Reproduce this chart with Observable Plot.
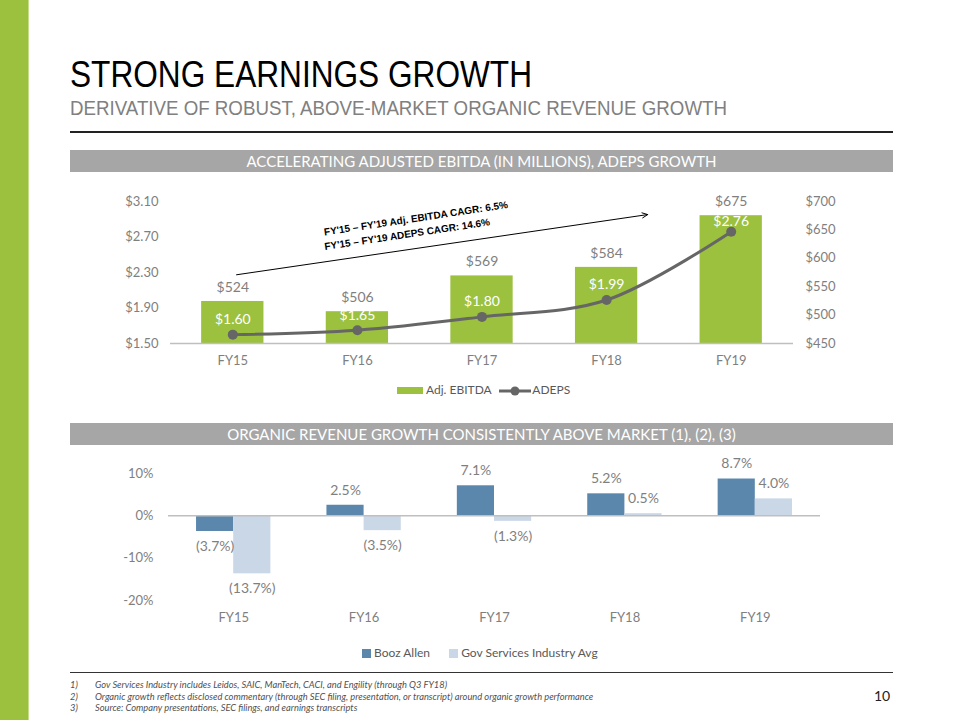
<!DOCTYPE html>
<html>
<head>
<meta charset="utf-8">
<script src="https://cdn.jsdelivr.net/npm/d3@7"></script>
<script src="https://cdn.jsdelivr.net/npm/@observablehq/plot@0.6"></script>
<style>
  html, body { margin: 0; padding: 0; background: #fff; }
  #page { position: relative; width: 960px; height: 720px; overflow: hidden; font-family: Lato, "Open Sans", sans-serif; }
  .abs { position: absolute; }
  #strip { left: 0; top: 0; width: 28px; height: 720px; background: #9bc13f; border-right: 1px solid #c4dc8c; }
  #title { left: 70px; top: 57px; font-family: "Liberation Sans", Arial, sans-serif; font-size: 36px; color: #000; white-space: nowrap; line-height: 1; transform-origin: 0 0; }
  #subtitle { left: 70px; top: 97px; font-family: "Liberation Sans", Arial, sans-serif; font-size: 21px; color: #808080; white-space: nowrap; line-height: 1; transform-origin: 0 0; }
  .rule { left: 70px; width: 823px; background: #222; }
  .band { left: 70px; width: 823px; height: 22px; background: #a6a6a6; color: #fff; font-size: 15px; text-align: center; line-height: 22px; white-space: nowrap; }
  .legend { font-size: 12px; color: #595959; white-space: nowrap; line-height: 14px; }
  .foot { left: 70px; font-size: 9.3px; font-style: italic; color: #505050; white-space: nowrap; }
  .foot span { display: inline-block; width: 25px; }
  #chart1 { left: 0; top: 180px; }
  #chart2 { left: 0; top: 450px; }
</style>
</head>
<body>
<div id="page">
  <div id="strip" class="abs"></div>
  <div id="title" class="abs">STRONG EARNINGS GROWTH</div>
  <div id="subtitle" class="abs">DERIVATIVE OF ROBUST, ABOVE-MARKET ORGANIC REVENUE GROWTH</div>
  <div class="abs rule" style="top:131px;height:2px;"></div>
  <div class="abs band" style="top:150px;">ACCELERATING ADJUSTED EBITDA (IN MILLIONS), ADEPS GROWTH</div>
  <div id="chart1" class="abs"></div>
  <div class="abs legend" style="left:397px;top:383px;">
    <span style="display:inline-block;width:26px;height:7px;background:#9bc13f;vertical-align:middle;margin-right:3px;"></span>Adj. EBITDA
    <svg width="34" height="14" style="vertical-align:middle;margin-left:4px;"><line x1="1" y1="7" x2="33" y2="7" stroke="#666" stroke-width="3"/><circle cx="17" cy="7" r="4.5" fill="#666"/></svg>ADEPS
  </div>
  <div class="abs band" style="top:423px;">ORGANIC REVENUE GROWTH CONSISTENTLY ABOVE MARKET (1), (2), (3)</div>
  <div id="chart2" class="abs"></div>
  <div class="abs legend" style="left:362px;top:646px;">
    <span style="display:inline-block;width:9px;height:9px;background:#5b87ad;vertical-align:-1px;margin-right:3px;"></span>Booz Allen
    <span style="display:inline-block;width:9px;height:9px;background:#c9d7e6;vertical-align:-1px;margin:0 3px 0 16px;"></span>Gov Services Industry Avg
  </div>
  <div class="abs rule" style="top:672px;height:1px;background:#333;"></div>
  <div class="abs foot" style="top:679px;"><span>1)</span>Gov Services Industry includes Leidos, SAIC, ManTech, CACI, and Engility (through Q3 FY18)</div>
  <div class="abs foot" style="top:691px;"><span>2)</span>Organic growth reflects disclosed commentary (through SEC filing, presentation, or transcript) around organic growth performance</div>
  <div class="abs foot" style="top:702px;"><span>3)</span>Source: Company presentations, SEC filings, and earnings transcripts</div>
  <div class="abs" style="left:874px;top:687px;font-size:14px;color:#222;">10</div>
</div>
<script>
// ---------- data ----------
const years = ["FY15", "FY16", "FY17", "FY18", "FY19"];
const ebitda = [524, 506, 569, 584, 675];          // Adj. EBITDA ($M)
const adeps = [1.60, 1.65, 1.80, 1.99, 2.76];       // ADEPS ($)
const ebitdaTicks = [450, 500, 550, 600, 650, 700];
const adepsTicks = [1.50, 1.90, 2.30, 2.70, 3.10];
const cagrNotes = ["FY'15 – FY'19 Adj. EBITDA CAGR: 6.5%", "FY'15 – FY'19 ADEPS CAGR: 14.6%"];
const boozAllen = [-3.7, 2.5, 7.1, 5.2, 8.7];       // organic growth %
const govAvg = [-13.7, -3.5, -1.3, 0.5, 4.0];       // industry avg %
const growthTicks = [-20, -10, 0, 10];

// condensed headline fonts: squeeze to the narrow face's width
function fitWidth(id, target) {
  const el = document.getElementById(id);
  const w = el.getBoundingClientRect().width;
  el.style.transform = "scaleX(" + (target / w) + ")";
}
fitWidth("title", 462);
fitWidth("subtitle", 657);

// ---------- chart 1 ----------
const eMin = ebitdaTicks[0], eMax = ebitdaTicks[ebitdaTicks.length - 1];
const aMin = adepsTicks[0], aMax = adepsTicks[adepsTicks.length - 1];
const toE = v => eMin + (v - aMin) / (aMax - aMin) * (eMax - eMin);
const fromE = v => aMin + (v - eMin) / (eMax - eMin) * (aMax - aMin);

const rows1 = years.map((y, i) => ({i, year: y, ebitda: ebitda[i], adeps: adeps[i], adepsE: toE(adeps[i])}));
const half1 = 0.25;
const last = rows1.length - 1;

const notes = [
  {x: 1.47, y: 670, text: cagrNotes[0]},
  {x: 1.40, y: 642, text: cagrNotes[1]}
];

const chart1 = Plot.plot({
  width: 960, height: 200,
  marginTop: 21, marginBottom: 37, marginLeft: 170, marginRight: 167,
  style: {fontFamily: "Lato, 'Open Sans', sans-serif", fontSize: "13px", color: "#7f7f7f", background: "transparent"},
  x: {type: "linear", domain: [-0.5, 4.5]},
  y: {domain: [eMin, eMax]},
  marks: [
    Plot.rect(rows1, {x1: d => d.i - half1, x2: d => d.i + half1, y1: () => eMin, y2: "ebitda", fill: "#9bc13f"}),
    Plot.ruleY([eMin], {stroke: "#bfbfbf", strokeWidth: 1.5}),
    Plot.line(rows1, {x: "i", y: "adepsE", curve: "catmull-rom", stroke: "#666666", strokeWidth: 3}),
    Plot.dot(rows1, {x: "i", y: "adepsE", r: 5, fill: "#666666"}),
    Plot.text(rows1, {x: "i", y: "ebitda", text: d => "$" + d.ebitda, dy: -14, fill: "#7f7f7f", fontSize: 14}),
    Plot.text(rows1.filter(d => d.i !== last), {x: "i", y: "adepsE", text: d => "$" + d.adeps.toFixed(2), dy: -15, fill: "#ffffff", fontSize: 14}),
    Plot.text(rows1.filter(d => d.i === last), {x: "i", y: "adepsE", text: d => "$" + d.adeps.toFixed(2), dy: -10, fill: "#ffffff", fontSize: 14}),
    Plot.arrow([{x1: 0.03, y1: 571, x2: 3.33, y2: 677}], {x1: "x1", y1: "y1", x2: "x2", y2: "y2", stroke: "#000", strokeWidth: 1, headLength: 9, headAngle: 50}),
    Plot.text(notes, {x: "x", y: "y", text: "text", rotate: -8.5, fill: "#000", fontWeight: "bold", fontSize: 10, fontFamily: "'Liberation Sans', Arial, sans-serif"}),
    Plot.axisX({ticks: [0, 1, 2, 3, 4], tickFormat: i => years[i], tickSize: 0, tickPadding: 12, fontSize: 13, label: null}),
    Plot.axisY({anchor: "left", ticks: adepsTicks.map(toE), tickFormat: v => "$" + fromE(v).toFixed(2), tickSize: 0, tickPadding: 12, fontSize: 13, label: null}),
    Plot.axisY({anchor: "right", ticks: ebitdaTicks, tickFormat: v => "$" + v, tickSize: 0, tickPadding: 12, fontSize: 13, label: null})
  ]
});
document.getElementById("chart1").appendChild(chart1);

// ---------- chart 2 ----------
const rows2 = [];
years.forEach((y, i) => {
  rows2.push({i, year: y, series: "Booz Allen", v: boozAllen[i], x1: i - 0.285, x2: i});
  rows2.push({i, year: y, series: "Gov Services Industry Avg", v: govAvg[i], x1: i, x2: i + 0.285});
});
const fmtPct = v => v < 0 ? "(" + Math.abs(v).toFixed(1) + "%)" : v.toFixed(1) + "%";
const gColor = {"Booz Allen": "#5b87ad", "Gov Services Industry Avg": "#c9d7e6"};

const chart2 = Plot.plot({
  width: 960, height: 185,
  marginTop: 23, marginBottom: 35, marginLeft: 168, marginRight: 140,
  style: {fontFamily: "Lato, 'Open Sans', sans-serif", fontSize: "13px", color: "#7f7f7f", background: "transparent"},
  x: {type: "linear", domain: [-0.5, 4.5]},
  y: {domain: [growthTicks[0], growthTicks[growthTicks.length - 1]]},
  marks: [
    Plot.rect(rows2, {x1: "x1", x2: "x2", y1: () => 0, y2: "v", fill: d => gColor[d.series]}),
    Plot.ruleY([0], {stroke: "#bfbfbf", strokeWidth: 1.5}),
    Plot.text(rows2.filter(d => d.v >= 0), {x: d => (d.x1 + d.x2) / 2, y: "v", text: d => fmtPct(d.v), dy: -15, fill: "#7f7f7f", fontSize: 14}),
    Plot.text(rows2.filter(d => d.v < 0), {x: d => (d.x1 + d.x2) / 2, y: "v", text: d => fmtPct(d.v), dy: 15, fill: "#7f7f7f", fontSize: 14}),
    Plot.axisX({ticks: [0, 1, 2, 3, 4], tickFormat: i => years[i], tickSize: 0, tickPadding: 12, fontSize: 13, label: null}),
    Plot.axisY({ticks: growthTicks, tickFormat: v => v + "%", tickSize: 0, tickPadding: 15, fontSize: 13, label: null})
  ]
});
document.getElementById("chart2").appendChild(chart2);
</script>
</body>
</html>
